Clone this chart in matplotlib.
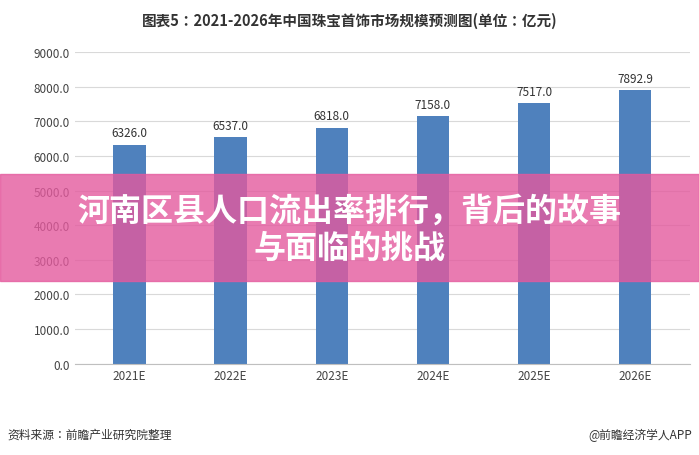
import matplotlib.pyplot as plt
from matplotlib import font_manager
from matplotlib.patches import Rectangle

cjk = [f.name for f in font_manager.fontManager.ttflist if 'CJK' in f.name and 'Sans' in f.name]
plt.rcParams['font.family'] = 'sans-serif'
plt.rcParams['font.sans-serif'] = sorted(set(cjk), key=lambda n: 'SC' not in n) + ['DejaVu Sans']

years = ['2021E', '2022E', '2023E', '2024E', '2025E', '2026E']
values = [6326.0, 6537.0, 6818.0, 7158.0, 7517.0, 7892.9]
y_ticks = [0, 1000, 2000, 3000, 4000, 5000, 6000, 7000, 8000, 9000]

fig = plt.figure(figsize=(6.99, 4.56), dpi=100)
ax = fig.add_axes([0.107, 0.2, 0.88, 0.684])
x = range(len(years))
ax.bar(x, values, width=0.32, color='#4f81bd', zorder=2)
for i, v in zip(x, values):
    ax.text(i, v + 150, f'{v:.1f}', ha='center', va='bottom', fontsize=8.5, color='#333333')
ax.set_xlim(-0.54, 5.54)
ax.set_ylim(0, 9000)
ax.set_yticks(y_ticks)
ax.set_yticklabels([f'{t:.1f}' for t in y_ticks], fontsize=8.5, color='#444444')
ax.set_xticks(list(x))
ax.set_xticklabels(years, fontsize=8.5, color='#444444')
ax.grid(axis='y', color='#d9d9d9', lw=0.8, zorder=0)
for s in ['top', 'right', 'left']:
    ax.spines[s].set_visible(False)
ax.spines['bottom'].set_color('#bfbfbf')
ax.tick_params(length=0)

fig.text(0.5, 0.955, '图表5：2021-2026年中国珠宝首饰市场规模预测图(单位：亿元)',
         ha='center', va='center', fontsize=10.5, fontweight='bold', color='#333333')
fig.text(0.01, 0.045, '资料来源：前瞻产业研究院整理', fontsize=8.5, color='#333333', va='center')
fig.text(0.99, 0.045, '@前瞻经济学人APP', fontsize=8.5, color='#333333', va='center', ha='right')

fig.patches.append(Rectangle((0, 1 - 282 / 456), 1, 107 / 456, transform=fig.transFigure,
                             color='#e45a9e', alpha=0.8, zorder=5))
fig.text(0.5, 1 - 212 / 456, '河南区县人口流出率排行，背后的故事', ha='center', va='center',
         fontsize=23, fontweight='bold', color='white', zorder=6)
fig.text(0.5, 1 - 249 / 456, '与面临的挑战', ha='center', va='center',
         fontsize=23, fontweight='bold', color='white', zorder=6)

fig.savefig('out.png', dpi=100)
